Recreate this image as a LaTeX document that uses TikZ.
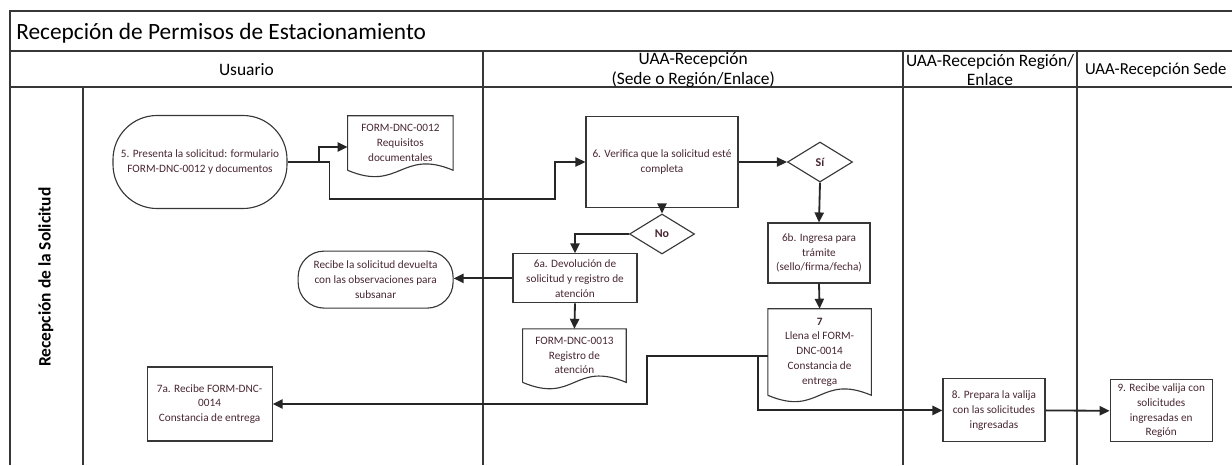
\documentclass[tikz,border=0pt]{standalone}
\usepackage{fontspec}
\setmainfont{Carlito}
\usepackage{xcolor}
\usepackage{tikz}
\usetikzlibrary{arrows.meta,positioning,shapes.geometric}

\definecolor{linec}{RGB}{55,55,55}
\definecolor{txtc}{RGB}{72,38,48}

\begin{document}
\begin{tikzpicture}[
    x=1cm,y=1cm,
    font=\fontsize{8}{10.5}\selectfont,
    lane/.style={draw=linec, line width=1pt},
    head/.style={align=center, font=\fontsize{12.4}{14.2}\selectfont, inner sep=0pt},
    proc/.style={draw=linec, line width=0.8pt, align=center, text=txtc, inner sep=2pt},
    term/.style={proc, rounded corners=1.1cm},
    dec/.style={diamond, draw=linec, line width=0.8pt, inner sep=1pt, text=txtc,
                minimum width=1.625cm, minimum height=1cm, font=\bfseries\fontsize{8.5}{10}\selectfont},
    docu/.style={align=center, text=txtc, inner sep=2pt,
                 append after command={\pgfextra{\draw[linec, line width=0.8pt]
                   (\tikzlastnode.south west) -- (\tikzlastnode.north west)
                   -- (\tikzlastnode.north east) -- (\tikzlastnode.south east)
                   .. controls +(-1.3,0.55) and +(1.3,-0.55) .. (\tikzlastnode.south west);}}},
    arrow/.style={-{Triangle[length=2.5mm,width=2.3mm]}, line width=1.3pt, black!85}
]
\useasboundingbox (0,0) rectangle (30.8,-11.625);

% Pool and lanes
\draw[lane] (0.25,-11.625) -- (0.25,-0.275) -- (30.8,-0.275);
\draw[lane] (0.25,-1.275) -- (30.8,-1.275);
\draw[lane] (0.25,-2.175) -- (30.8,-2.175);
\draw[lane] (2.075,-2.175) -- (2.075,-11.625);
\foreach \x in {12.075,22.575,26.925}
  \draw[lane] (\x,-1.275) -- (\x,-11.625);

\node[anchor=base west, font=\fontsize{16.6}{19}\selectfont, inner sep=0pt] (title) at (0.4,-0.985) {Recepción de Permisos de Estacionamiento};
\node[head] (hUsu) at (6.16,-1.75) {Usuario};
\node[head] (hRec) at (17.33,-1.75) {UAA-Recepción\\(Sede o Región/Enlace)};
\node[head] (hReg) at (24.75,-1.75) {UAA-Recepción Región/\\Enlace};
\node[head, anchor=west, font=\fontsize{11.9}{14}\selectfont] (hSede) at (27.12,-1.75) {UAA-Recepción Sede};
\node[rotate=90, font=\bfseries\fontsize{12.4}{14}\selectfont] (lRec) at (1.15,-6.93) {Recepción de la Solicitud};

% Usuario
\node[term, minimum width=4.35cm, minimum height=2.325cm] (n5) at (5.0,-4.05)
  {5. Presenta la solicitud: formulario\\FORM-DNC-0012 y documentos};
\node[docu, minimum width=2.625cm, minimum height=1.35cm] (doc12) at (10.01,-3.575)
  {FORM-DNC-0012\\Requisitos\\documentales};
\node[term, rounded corners=0.65cm, minimum width=3.875cm, minimum height=1.425cm] (recibe) at (9.39,-6.99)
  {Recibe la solicitud devuelta\\con las observaciones para\\subsanar};
\node[proc, minimum width=3.125cm, minimum height=1.85cm] (box7a) at (5.24,-10.1)
  {7a. Recibe FORM-DNC-\\0014\\Constancia de entrega};

% UAA-Recepcion
\node[proc, minimum width=3.8cm, minimum height=2.275cm] (box6) at (16.55,-4.05)
  {6. Verifica que la solicitud esté\\completa};
\node[dec] (si) at (20.5,-4.05) {Sí};
\node[dec] (no) at (16.55,-5.85) {No};
\node[proc, minimum width=3.1cm, minimum height=1.225cm] (box6a) at (14.375,-6.96)
  {6a. Devolución de\\solicitud y registro de\\atención};
\node[docu, minimum width=2.575cm, minimum height=1.325cm] (doc13) at (14.36,-8.89)
  {FORM-DNC-0013\\Registro de\\atención};
\node[proc, minimum width=2.55cm, minimum height=1.5cm] (box6b) at (20.475,-6.325)
  {6b. Ingresa para\\trámite\\(sello/firma/fecha)};
\node[docu, minimum width=2.575cm, minimum height=2.15cm] (doc7) at (20.49,-8.8)
  {\textbf{7}\\Llena el FORM-\\DNC-0014\\Constancia de\\entrega};

% Region / Sede
\node[proc, minimum width=2.55cm, minimum height=1.575cm] (box8) at (24.85,-10.26)
  {8. Prepara la valija\\con las solicitudes\\ingresadas};
\node[proc, minimum width=2.55cm, minimum height=1.55cm] (box9) at (29.03,-10.27)
  {9. Recibe valija con\\solicitudes\\ingresadas en\\Región};

% Flow
\coordinate (j1) at (13.88,-4.98);
\coordinate (j2) at (16.18,-10.1);
\draw[arrow] (n5.east) -- ++(0.78,0) |- ([yshift=-0.1cm]doc12.west);
\draw[arrow] (n5.east) -- ++(1.05,0) |- (j1) |- (box6.west);
\draw[arrow] (box6.east) -- (si.west);
\draw[arrow] (box6.south) -- (no.north);
\draw[arrow] (si.south) -- (box6b.north);
\draw[arrow] (no.west) -| (box6a.north);
\draw[arrow] (box6a.west) -- (box6a.west -| recibe.east);
\draw[arrow] (box6a.south) -- (doc13.north);
\draw[arrow] (box6b.south) -- (doc7.north);
\draw[arrow] ([yshift=-0.1cm]doc7.west) -| (j2) -- (box7a.east);
\draw[arrow] ([yshift=-0.1cm]doc7.west) -- ++(-0.25,0) |- (box8.west);
\draw[arrow] (box8.east) -- (box9.west);
\end{tikzpicture}
\end{document}
